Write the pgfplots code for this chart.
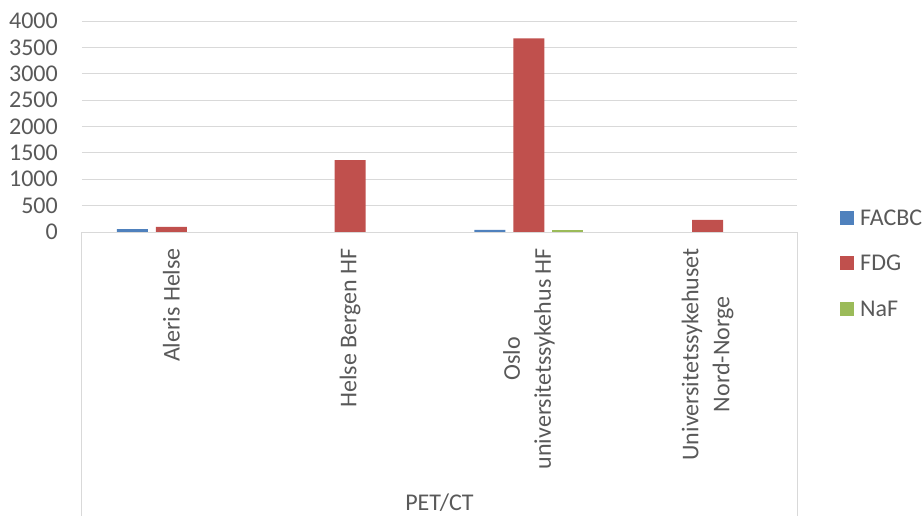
\documentclass[border=0pt]{standalone}
\usepackage{pgfplots}
\pgfplotsset{compat=1.18}
\usepackage{fontspec}
\setmainfont{Carlito}
\definecolor{cA}{HTML}{4F81BD}
\definecolor{cB}{HTML}{C0504D}
\definecolor{cC}{HTML}{9BBB59}
\definecolor{gridc}{HTML}{D9D9D9}
\definecolor{txt}{HTML}{595959}
\begin{document}
\begin{tikzpicture}
\useasboundingbox (-82pt,-283pt) rectangle (840pt,232pt);
\begin{axis}[
 at={(0,0)}, anchor=south west,
 scale only axis, width=715pt, height=211pt,
 clip=false,
 xmin=-0.5, xmax=3.5, ymin=0, ymax=4000,
 ybar=8pt, bar width=31pt,
 xtick={0,1,2,3},
 xticklabels={Aleris Helse, Helse Bergen HF, {Oslo\\universitetssykehus HF}, {Universitetssykehuset\\Nord-Norge}},
 ytick={0,500,...,4000},
 axis line style={draw=none},
 major tick length=0pt,
 ymajorgrids, major grid style={draw=gridc, line width=1pt},
 tick label style={font=\fontsize{24}{31}\selectfont, text=txt},
 /pgf/number format/assume math mode=true,
 /pgf/number format/1000 sep={},
 xticklabel style={rotate=90, anchor=east, align=center, inner sep=0pt},
 xticklabel shift=16pt,
 yticklabel style={anchor=east, inner sep=0pt},
 yticklabel shift=24pt,
 legend image code/.code={\fill[#1] (0pt,-7pt) rectangle (14pt,7pt);},
 legend cell align=left,
 legend style={at={(1.056,-0.147)}, anchor=west, draw=none, fill=none,
   font=\fontsize{24}{31}\selectfont, text=txt,
   nodes={inner sep=0pt, text depth=0pt},
   row sep=30pt, column sep=6pt},
]
\addplot[fill=cA, draw=none] coordinates {(0,55) (2,40)};
\addplot[fill=cB, draw=none] coordinates {(0,95) (1,1365) (2,3670) (3,230)};
\addplot[fill=cC, draw=none] coordinates {(2,40)};
\legend{FACBC, FDG, NaF}
\draw[gridc, line width=1pt] (rel axis cs:0,0) -- (rel axis cs:1,0);
\draw[gridc, line width=1pt] (rel axis cs:0,0) -- ++(0pt,-290pt);
\draw[gridc, line width=1pt] (rel axis cs:1,0) -- ++(0pt,-290pt);
\node[font=\fontsize{24}{31}\selectfont, text=txt] at ([yshift=-271pt]rel axis cs:0.5,0) {PET/CT};
\end{axis}
\end{tikzpicture}
\end{document}
